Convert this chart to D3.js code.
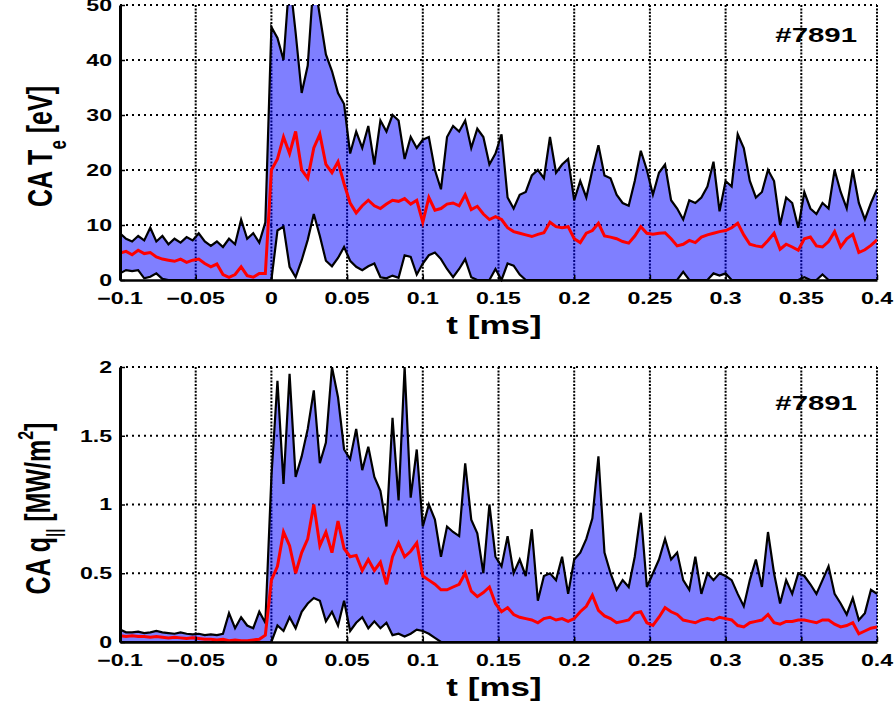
<!DOCTYPE html>
<html>
<head>
<meta charset="utf-8">
<script src="https://cdn.jsdelivr.net/npm/d3@7"></script>
<style>
  body { margin: 0; background: #fff; }
  svg text { font-family: "Liberation Sans", Arial, sans-serif; font-weight: bold; fill: #000; }
</style>
</head>
<body>
<svg id="chart"></svg>
<script>
// Time axis (ms), sampled every 0.004 ms
const tMs = [-0.1,-0.096,-0.092,-0.088,-0.084,-0.08,-0.076,-0.072,-0.068,-0.064,
  -0.06,-0.056,-0.052,-0.048,-0.044,-0.04,-0.036,-0.032,-0.028,-0.024,
  -0.02,-0.016,-0.012,-0.008,-0.004,0,0.004,0.008,0.012,0.016,
  0.02,0.024,0.028,0.032,0.036,0.04,0.044,0.048,0.052,0.056,
  0.06,0.064,0.068,0.072,0.076,0.08,0.084,0.088,0.092,0.096,
  0.1,0.104,0.108,0.112,0.116,0.12,0.124,0.128,0.132,0.136,
  0.14,0.144,0.148,0.152,0.156,0.16,0.164,0.168,0.172,0.176,
  0.18,0.184,0.188,0.192,0.196,0.2,0.204,0.208,0.212,0.216,
  0.22,0.224,0.228,0.232,0.236,0.24,0.244,0.248,0.252,0.256,
  0.26,0.264,0.268,0.272,0.276,0.28,0.284,0.288,0.292,0.296,
  0.3,0.304,0.308,0.312,0.316,0.32,0.324,0.328,0.332,0.336,
  0.34,0.344,0.348,0.352,0.356,0.36,0.364,0.368,0.372,0.376,
  0.38,0.384,0.388,0.392,0.396,0.4];

// CA Te [eV]: upper bound, mean, lower bound
const teHigh = [8.5,7.5,7.0,8.0,7.2,9.5,7.0,8.0,6.5,7.5,
  6.8,7.8,7.2,8.5,7.0,6.2,7.0,6.0,7.5,6.5,
  11.0,7.5,8.5,6.8,10.5,46,44,40,55,45,
  34,39,55,48,41,38,34,32,23,27,
  24,28,21,29,27,30,29,22,26,24,
  25.5,26,20,16.5,26,28,27,29,24,27.5,
  26,21,23,26.5,15,13,15.5,16,19,20,
  18.5,26,19.5,21,22,14.5,18,15,20,24.5,
  19,18.5,15.5,14,13.5,18,23.5,20,15.5,19.5,
  21,14.5,13,11,14.5,14,15,17,21.5,12.5,
  18,17,26.5,24,18,15,16,20,18,10,
  15,14,9.5,16,13,12,14,13,20,16,
  13,20,14,11,14,16.5];
const teMean = [4.9,5.2,4.6,5.4,4.8,5.0,4.2,3.8,3.6,3.4,
  3.8,3.2,3.6,3.8,3.0,2.4,2.9,1.0,0.5,1.0,
  2.4,0.8,0.5,1.2,1.2,20,22,26,23,27,
  20,18.5,24,26.5,21,19.5,21.5,17.5,14,12.2,
  13.5,14.5,13.5,13,13.8,14.5,14.3,14.8,13.8,14.5,
  10.5,15,12.7,13,13.8,14,13.5,15.5,12.8,13.4,
  12,11,11.5,11,9.5,8.8,8.5,8.2,7.9,8.3,
  8.6,10.5,9.7,9.5,9.7,7.5,6.8,8.5,9.0,10.3,
  8,7.8,7.5,7,6.7,8.0,9.7,8.5,8.3,8.5,
  8.6,7.5,6.2,6.5,7.2,6.8,7.8,8.2,8.5,8.8,
  9.0,9.5,10.3,8.2,6.5,6.2,6.0,7.2,8.5,5.6,
  6.5,6.0,5.4,7.5,7.8,6.2,6.0,7.0,8.8,6.0,
  7.5,8.3,5.0,5.5,6.3,7.3];
const teLow = [1.2,1.8,1.6,1.8,0.3,0.6,1.2,0.2,0,0,
  0,0,0,0,0,0,0,0,0,0,
  0,0,0,0,0,0,9,9.7,2.4,0.5,
  3.6,7.3,12,8,3.5,2.5,4,6,3.5,2.4,
  1.8,2.5,3.0,0.5,0.3,0.8,0.4,4.5,4.2,1.0,
  3.0,4.5,5.0,3.8,2.0,0.5,2.0,3.8,0.5,0,
  0,0,2.0,0,3.0,2.6,1.0,0,0,0,
  0,0,0,0,0,0,0,0,0,0,
  0,0,0,0,0,0,0,0,0,0,
  0,0,0,1.5,0,0,0,0,1.2,0.8,
  1.2,0,0,0,0,0,0,0,0,0,
  0,0,0,0.5,0,0,1.0,0,0,0,
  0,0,0,0,0,0];

// CA q_|| [MW/m^2]: upper bound, mean, lower bound
const qHigh = [0.09,0.07,0.07,0.075,0.065,0.07,0.08,0.07,0.065,0.06,
  0.07,0.06,0.055,0.06,0.05,0.055,0.05,0.06,0.21,0.1,
  0.18,0.12,0.1,0.22,0.14,1.2,1.9,1.15,1.95,1.2,
  1.35,1.55,1.83,1.3,1.45,2.0,1.78,1.4,1.33,1.55,
  1.25,1.42,1.2,1.1,0.84,1.63,1.03,2.0,1.05,1.4,
  0.84,1.0,0.89,0.62,0.84,0.8,0.77,1.3,0.89,0.79,
  0.5,1.0,0.62,0.55,0.77,0.5,0.6,0.48,0.82,0.3,
  0.48,0.5,0.45,0.62,0.35,0.6,0.65,0.75,0.9,1.35,
  0.65,0.5,0.38,0.45,0.4,0.62,0.94,0.4,0.5,0.6,
  0.75,0.6,0.65,0.45,0.38,0.62,0.35,0.5,0.45,0.5,
  0.48,0.45,0.35,0.26,0.45,0.6,0.4,0.8,0.5,0.28,
  0.45,0.35,0.5,0.48,0.42,0.35,0.45,0.55,0.35,0.28,
  0.2,0.32,0.16,0.21,0.38,0.35];
const qMean = [0.045,0.04,0.045,0.04,0.04,0.035,0.04,0.035,0.03,0.035,
  0.03,0.025,0.03,0.025,0.02,0.02,0.015,0.02,0.01,0.015,
  0.01,0.01,0.015,0.02,0.05,0.45,0.55,0.8,0.7,0.5,
  0.65,0.75,1.0,0.7,0.8,0.65,0.88,0.68,0.62,0.63,
  0.52,0.6,0.52,0.58,0.42,0.62,0.72,0.62,0.66,0.72,
  0.48,0.45,0.42,0.38,0.38,0.4,0.42,0.5,0.37,0.33,
  0.36,0.4,0.28,0.22,0.25,0.2,0.18,0.17,0.16,0.14,
  0.17,0.18,0.16,0.17,0.15,0.17,0.22,0.26,0.34,0.23,
  0.19,0.17,0.14,0.15,0.16,0.21,0.22,0.14,0.12,0.18,
  0.25,0.22,0.2,0.16,0.15,0.14,0.16,0.17,0.16,0.18,
  0.17,0.16,0.12,0.11,0.14,0.15,0.16,0.2,0.14,0.13,
  0.15,0.15,0.16,0.16,0.15,0.14,0.16,0.16,0.13,0.11,
  0.12,0.14,0.06,0.08,0.1,0.11];
const qLow = [0,0,0,0,0,0,0,0,0,0,
  0,0,0,0,0,0,0,0,0,0,
  0,0,0,0,0,0,0.12,0.08,0.18,0.1,
  0.22,0.28,0.32,0.3,0.15,0.22,0.12,0.3,0.08,0.14,
  0.18,0.1,0.15,0.1,0.14,0.05,0.06,0.04,0.06,0.09,
  0.08,0.06,0.03,0,0,0,0,0,0,0,
  0,0,0,0,0,0,0,0,0,0,
  0,0,0,0,0,0,0,0,0,0,
  0,0,0,0,0,0,0,0,0,0,
  0,0,0,0,0,0,0,0,0,0,
  0,0,0,0,0,0,0,0,0,0,
  0,0,0,0,0,0,0,0,0,0,
  0,0,0,0,0,0];

// Ticks
const xTicks = [-0.1,-0.05,0,0.05,0.1,0.15,0.2,0.25,0.3,0.35,0.4];
const teTicks = [0,10,20,30,40,50];
const qTicks = [0,0.5,1,1.5,2];
const shotLabel = "#7891";

const svgWidth = 896, svgHeight = 710;
const stretch = 1.4; // the figure's text is stretched horizontally
const plotLeft = 120, plotRight = 877;

const svg = d3.select('#chart')
  .attr('width', svgWidth)
  .attr('height', svgHeight);

svg.append('rect').attr('width', svgWidth).attr('height', svgHeight).attr('fill', '#fff');

const panels = [
  {id: 'te', top: 5, bottom: 280, domain: [0, 50], ticks: teTicks,
   hi: teHigh, mean: teMean, lo: teLow, labelX: 52, tickLabelY: 304, xLabelY: 334, shotY: 42},
  {id: 'q', top: 367, bottom: 642, domain: [0, 2], ticks: qTicks,
   hi: qHigh, mean: qMean, lo: qLow, labelX: 50, tickLabelY: 666, xLabelY: 696, shotY: 410}
];

const fmt = v => (v === 0 ? '0' : String(+v.toFixed(2))).replace('-', '\u2212');

panels.forEach(drawPanel);

function drawPanel(p) {
  const x = d3.scaleLinear().domain([-0.1, 0.4]).range([plotLeft, plotRight]);
  const y = d3.scaleLinear().domain(p.domain).range([p.bottom, p.top]);
  const g = svg.append('g');

  svg.append('clipPath').attr('id', 'clip-' + p.id)
    .append('rect')
    .attr('x', plotLeft).attr('y', p.top)
    .attr('width', plotRight - plotLeft).attr('height', p.bottom - p.top + 2);

  // dotted grid
  g.append('g').selectAll('line')
    .data(xTicks.slice(1))
    .enter().append('line')
    .attr('x1', d => x(d)).attr('x2', d => x(d))
    .attr('y1', p.top).attr('y2', p.bottom)
    .style('stroke', '#000').style('stroke-width', 2)
    .style('stroke-dasharray', '2,1.4');

  g.append('g').selectAll('line')
    .data(p.ticks.slice(1))
    .enter().append('line')
    .attr('x1', plotLeft).attr('x2', plotRight)
    .attr('y1', d => y(d)).attr('y2', d => y(d))
    .style('stroke', '#000').style('stroke-width', 1.8)
    .style('stroke-dasharray', '2,4');

  // data: band between lower and upper bound, bounds in black, mean in red
  const rows = tMs.map((t, i) => ({t: t, hi: p.hi[i], mean: p.mean[i], lo: p.lo[i]}));
  const dg = g.append('g').attr('clip-path', 'url(#clip-' + p.id + ')');

  dg.append('path').datum(rows)
    .attr('d', d3.area().x(d => x(d.t)).y0(d => y(d.lo)).y1(d => y(d.hi)))
    .style('fill', '#0000ff').style('fill-opacity', 0.5);

  ['hi', 'lo'].forEach(k => {
    dg.append('path').datum(rows)
      .attr('d', d3.line().x(d => x(d.t)).y(d => y(d[k])))
      .style('fill', 'none').style('stroke', '#000').style('stroke-width', 2.2);
  });

  dg.append('path').datum(rows)
    .attr('d', d3.line().x(d => x(d.t)).y(d => y(d.mean)))
    .style('fill', 'none').style('stroke', '#ff0000').style('stroke-width', 3);

  // axes, ticks pointing inward
  const yAxis = g.append('g')
    .attr('transform', 'translate(' + plotLeft + ',0)')
    .call(d3.axisLeft(y).tickValues(p.ticks).tickSizeInner(-5).tickSizeOuter(0).tickFormat(''));
  yAxis.select('.domain').style('stroke', '#000').style('stroke-width', 3);
  yAxis.selectAll('.tick line').style('stroke', '#000').style('stroke-width', 1.5);

  const xAxis = g.append('g')
    .attr('transform', 'translate(0,' + p.bottom + ')')
    .call(d3.axisBottom(x).tickValues(xTicks).tickSizeInner(-5).tickSizeOuter(0).tickFormat(''));
  xAxis.select('.domain').style('stroke', '#000').style('stroke-width', 2.5);
  xAxis.selectAll('.tick line').style('stroke', '#000').style('stroke-width', 1.5);

  // tick labels
  g.append('g').selectAll('text')
    .data(p.ticks)
    .enter().append('text')
    .attr('transform', d => 'translate(112,' + y(d) + ') scale(' + stretch + ',1)')
    .attr('text-anchor', 'end')
    .attr('dominant-baseline', 'central')
    .style('font-size', '16.5px')
    .text(d => String(d));

  g.append('g').selectAll('text')
    .data(xTicks)
    .enter().append('text')
    .attr('transform', d => 'translate(' + x(d) + ',' + p.tickLabelY + ') scale(' + stretch + ',1)')
    .attr('text-anchor', 'middle')
    .style('font-size', '16.5px')
    .text(fmt);

  // axis titles
  g.append('text')
    .attr('transform', 'translate(494,' + p.xLabelY + ') scale(' + stretch + ',1)')
    .attr('text-anchor', 'middle')
    .style('font-size', '25px')
    .text('t [ms]');

  const cy = (p.top + p.bottom) / 2 + 4;
  const yl = g.append('text')
    .attr('transform', 'translate(' + p.labelX + ',' + cy + ') rotate(-90) scale(1,' + stretch + ')')
    .attr('text-anchor', 'middle')
    .style('font-size', '25px');
  if (p.id === 'te') {
    yl.append('tspan').text('CA T');
    yl.append('tspan').attr('dy', 10).style('font-size', '17px').text('e');
    yl.append('tspan').attr('dy', -10).text(' [eV]');
  } else {
    yl.append('tspan').text('CA q');
    yl.append('tspan').attr('dy', 8).style('font-size', '15px').text('||');
    yl.append('tspan').attr('dy', -8).text(' [MW/m');
    yl.append('tspan').attr('dy', -12).style('font-size', '16px').text('2');
    yl.append('tspan').attr('dy', 12).text(']');
  }

  // shot number
  g.append('text')
    .attr('transform', 'translate(857,' + p.shotY + ') scale(' + stretch + ',1)')
    .attr('text-anchor', 'end')
    .style('font-size', '21px')
    .text(shotLabel);
}
</script>
</body>
</html>
